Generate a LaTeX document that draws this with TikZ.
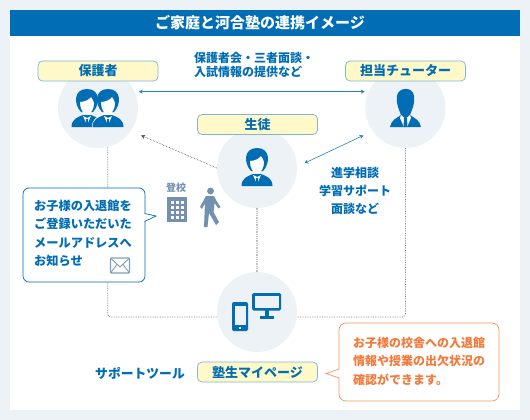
\documentclass[tikz,border=0pt]{standalone}
\usepackage{fontspec}
\setmainfont{Noto Sans CJK JP}
\usepackage{xcolor}
\usetikzlibrary{arrows.meta, positioning, calc}
\definecolor{mybg}{HTML}{EDF2F6}
\definecolor{myblue}{HTML}{006DB5}
\definecolor{myline}{HTML}{7DB5DC}
\definecolor{myyellow}{HTML}{FFF9C9}
\definecolor{myorange}{HTML}{F47A3C}
\definecolor{myslate}{HTML}{7390B0}
\definecolor{mygrey}{HTML}{808080}
\tikzset{
  circ/.style={circle, fill=mybg, minimum size=80pt, inner sep=0pt},
  tag/.style={rectangle, draw=myline, fill=myyellow, rounded corners=4.5pt, minimum width=120pt, minimum height=20pt, inner sep=0pt, line width=0.7pt, text=myblue, font=\fontsize{13}{14}\selectfont\bfseries},
  txt/.style={text=myblue, inner sep=0pt, font=\fontsize{12.2}{18.3}\selectfont\bfseries},
  arrow/.style={{Stealth[length=4pt,width=4pt]}-{Stealth[length=4pt,width=4pt]}, color=myblue!70!myline, line width=0.6pt},
  route/.style={densely dotted, color=mygrey, line width=0.7pt, rounded corners=3pt},
  bust/.pic={
    \fill[myblue] (-15.5,19) .. controls (-15.5,11) and (-9,9) .. (-4,7) -- (4,7) .. controls (9,9) and (15.5,11) .. (15.5,19) -- cycle;
    \fill[myblue] (-6,4) .. controls (-13,-3) and (-14,-19) .. (0,-19) .. controls (14,-19) and (13,-3) .. (6,4) -- cycle;
    \fill[white] (-7,-6) .. controls (-3,-6) and (2,-8) .. (4,-11) .. controls (5,-9) and (7,-7) .. (7,-5) .. controls (7,1) and (4,6) .. (0,7) .. controls (-4,6) and (-7,1) .. (-7,-6) -- cycle;
    \fill[white] (-4,8) -- (0,17) -- (4,8) -- (0,10) -- cycle;
    \fill[myblue] (-1,11) -- (1,11) -- (1.4,17) -- (0,19) -- (-1.4,17) -- cycle;
  }
}
\begin{document}
\begin{tikzpicture}[x=1pt, y=-1pt]
  % Panel
  \fill[mybg] (0,0) rectangle (530,420);
  \useasboundingbox (0,0) rectangle (530,420);
  \fill[white] (10,10) rectangle (520,410);
  \fill[myblue] (10,10) rectangle (520,36);
  \node[text=white, font=\fontsize{15}{17}\selectfont\bfseries] (title) at (260,23) {ご家庭と河合塾の連携イメージ};

  % Circles
  \node[circ] (parent) at (98,108) {};
  \node[circ] (tutor) at (405.5,108) {};
  \node[circ] (student) at (257,168) {};
  \node[circ] (tool) at (257,312) {};

  % Connectors
  \draw[route] (parent.-76) |- (tool.187);
  \draw[route] (tutor.-90) |- (tool.-7);
  \draw[densely dotted, color=black!25, line width=1.3pt] (student.south) -- (tool.north);
  \draw[arrow, shorten <=4pt, shorten >=4pt] (parent.24) -- (tutor.156);
  \draw[arrow, shorten <=8pt, shorten >=10pt] (student.2) -- (tutor.-145);
  \draw[densely dotted, color=black!70, line width=0.6pt, -{Stealth[length=4pt,width=4pt]}, shorten >=11pt] (student.180) -- (parent.-35);

  % Tags
  \node[tag] (parenttag) at (98,71) {保護者};
  \node[tag] (tutortag) at (405.5,71) {担当チューター};
  \node[tag] (studenttag) at (257.5,124.5) {生徒};
  \node[tag] (tooltag) at (257.5,372) {塾生マイページ};

  % People
  \pic at (87,108) {bust};
  \fill[white] (92,127) .. controls (92,119) and (97,117) .. (101,115) -- (108,110) -- (115,115) -- (108,127) -- cycle;
  \pic at (108,108) {bust};
  \pic at (257,167) {bust};

  % Tutor
  \fill[myblue] (390,127) .. controls (391,120) and (397,118) .. (401,115) -- (410,115) .. controls (414,118) and (420,120) .. (421,127) -- cycle;
  \fill[myblue] (401,115) .. controls (399,109) and (396,105) .. (397,96) .. controls (398,87) and (413,86) .. (414,96) .. controls (415,105) and (412,109) .. (410,115) -- cycle;
  \fill[white] (401,115) -- (405.5,119) -- (410,115) -- (411,118) -- (407,127) -- (404,127) -- (400,118) -- cycle;
  \fill[myblue] (404,118) -- (407,118) -- (407.5,127) -- (403.5,127) -- cycle;

  % Devices
  \fill[myblue, rounded corners=2pt] (232,302) rectangle (248,331);
  \fill[mybg] (234.5,306) rectangle (245.5,325);
  \fill[mybg] (239,327) rectangle (241,329);
  \fill[myblue, rounded corners=1.5pt] (252,293) rectangle (281,310.5);
  \fill[mybg] (254.5,295.5) rectangle (278.5,308);
  \fill[myblue] (264.5,310) rectangle (268.5,316);
  \fill[myblue] (260,315.5) rectangle (274,318.5);

  % School
  \node[text=myslate, font=\fontsize{10}{11}\selectfont\bfseries] (school) at (176,188) {登校};
  \fill[myslate] (167,197) rectangle (187,222);
  \foreach \i in {0,1,2}
    \foreach \j in {0,1,2,3}
      \fill[white] ({170.5+\i*5},{201+\j*5}) rectangle ++(3.2,3);
  \fill[myslate] (210.5,191) circle (3.4);
  \fill[myslate, line join=round] (206,196) -- (214,196) -- (216,200) -- (220.5,207) -- (218.5,208.5) -- (214.5,203) -- (213.5,212) -- (219,222) -- (216,225) -- (209,213) -- (207.5,227) -- (204,227) -- (205,203) -- (202,209) -- (200,207) -- cycle;

  % Bubbles
  \node[draw=myblue, fill=white, rounded corners=6pt, minimum width=122pt, minimum height=94pt, line width=0.7pt] (mailbox) at (84,235) {};
  \fill[white] (144,213.5) -- (156,216) -- (144,221.5) -- cycle;
  \draw[myblue, line width=0.7pt] (144.6,213.5) -- (156,216) -- (144.6,221.5);
  \node[txt, align=left, anchor=north west] (mailtext) at (34,200) {お子様の入退館を\\ご登録いただいた\\メールアドレスへ\\お知らせ};
  \draw[color=myline!60!mygrey, fill=white, line width=1.2pt, rounded corners=1pt] (110.5,258) rectangle (129.5,273);
  \draw[color=myline!60!mygrey, line width=0.9pt] (110.5,258) -- (120,267) -- (129.5,258) (110.5,273) -- (117,264.5) (129.5,273) -- (123,264.5);

  \node[draw=myorange!80, fill=white, rounded corners=7pt, minimum width=160pt, minimum height=78pt, line width=0.7pt] (pagebox) at (419,362) {};
  \fill[white] (340,369) -- (326,373.5) -- (340,378) -- cycle;
  \draw[myorange!80, line width=0.7pt] (339.2,369) -- (326,373.5) -- (339.2,378);
  \node[txt, text=myorange, align=left, anchor=north west, font=\fontsize{12}{18.3}\selectfont\bfseries] (pagetext) at (353,337) {お子様の校舎への入退館\\情報や授業の出欠状況の\\確認ができます。};

  % Labels
  \node[txt, align=left, anchor=west, font=\fontsize{12}{14}\selectfont\bfseries] (infolabel) at (194,65) {保護者会・三者面談・\\入試情報の提供など};
  \node[txt, align=center, font=\fontsize{12}{18}\selectfont\bfseries] (consultlabel) at (355,191) {進学相談\\学習サポート\\面談など};
  \node[txt, anchor=east, font=\fontsize{12.8}{14}\selectfont\bfseries] (toollabel) at (185,373) {サポートツール};
\end{tikzpicture}
\end{document}
